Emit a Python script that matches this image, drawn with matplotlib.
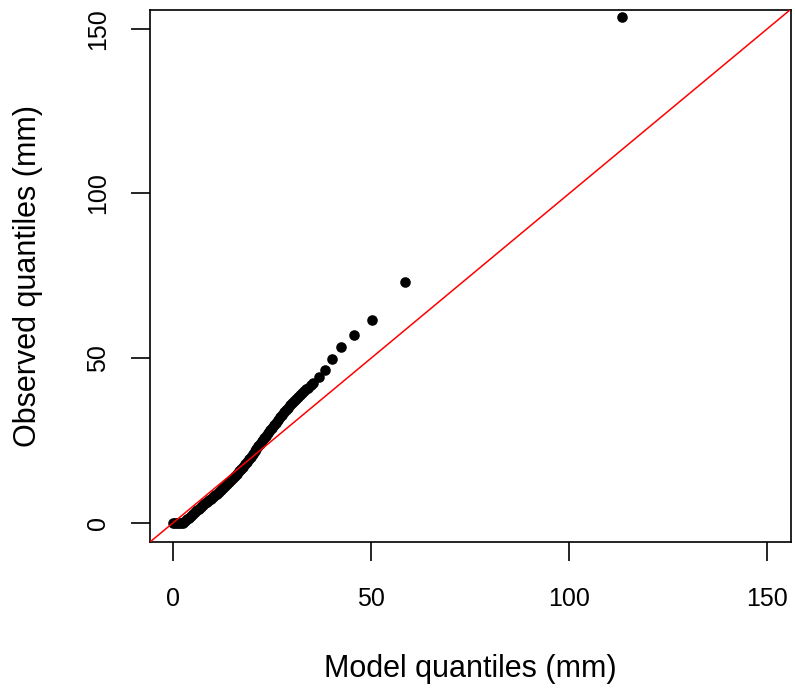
import numpy as np
import matplotlib
matplotlib.use("Agg")
import matplotlib.pyplot as plt

plt.rcParams['font.family'] = ['Liberation Sans', 'DejaVu Sans']

# model vs observed quantiles (mm)
model_q = [0, 0.5, 1, 1.5, 2, 2.5, 3, 3.5, 4, 4.5, 5, 5.5, 6, 6.5, 7, 7.5, 8, 8.5,
           9, 9.5, 10, 10.5, 11, 11.5, 12, 12.5, 13, 13.5, 14, 14.5, 15, 15.5, 16,
           16.5, 17, 17.5, 18, 18.5, 19, 19.5, 20, 20.5, 21, 21.5, 22, 22.5, 23,
           23.5, 24, 24.5, 25, 25.5, 26, 26.5, 27, 27.5, 28, 28.5, 29, 29.5, 30,
           30.5, 31, 31.5, 32, 32.5, 33, 33.5, 34.1, 34.7, 35.4,
           36.7, 38.3, 40.2, 42.3, 45.7, 50.3, 58.5, 113.4]
obs_q = [0, 0, 0, 0, 0, 0, 0.6, 1.0, 1.5, 2.0, 2.6, 3.1, 3.7, 4.2, 4.8, 5.3, 5.8,
         6.3, 6.8, 7.3, 7.8, 8.3, 8.8, 9.3, 9.9, 10.4, 11.0, 11.6, 12.2, 12.8,
         13.5, 14.2, 14.9, 15.6, 16.3, 17.0, 17.7, 18.5, 19.2, 20.0, 20.8, 21.6,
         22.4, 23.2, 24.0, 24.8, 25.6, 26.4, 27.2, 28.0, 28.8, 29.6, 30.4, 31.2,
         32.0, 32.8, 33.5, 34.2, 34.9, 35.6, 36.3, 36.9, 37.5, 38.1, 38.7, 39.3,
         39.9, 40.5, 41.0, 41.7, 42.5,
         44.2, 46.5, 49.7, 53.2, 57.1, 61.6, 73.1, 153.6]
ticks = [0, 50, 100, 150]
lims = (-5.9, 155.9)

W, H = 795, 689
fig = plt.figure(figsize=(W / 100, H / 100), dpi=100)
ax = fig.add_axes([150 / W, 1 - 542 / H, (790.5 - 150) / W, (542 - 9.5) / H])

ax.scatter(model_q, obs_q, s=58, c='black', linewidths=0, zorder=2)
ax.axline((0, 0), slope=1, color='#ff0000', lw=1.1, zorder=3)

ax.set_xlim(lims)
ax.set_ylim(lims)
ax.set_xticks(ticks)
ax.set_yticks(ticks)
for s in ax.spines.values():
    s.set_linewidth(1.2)
ax.tick_params(axis='both', direction='out', length=13.5, width=1.2, labelsize=18)
ax.tick_params(axis='x', pad=19)
ax.tick_params(axis='y', pad=15.5, labelrotation=90)
for lab in ax.get_yticklabels():
    lab.set_va('center')

# axis titles, placed on their baselines like R's mtext
fig.text(470 / W, 1 - 677 / H, 'Model quantiles (mm)', ha='center', va='baseline',
         fontsize=22)
fig.text(36 / W, 1 - 276 / H, 'Observed quantiles (mm)', ha='center', va='baseline',
         rotation=90, rotation_mode='anchor', fontsize=22)

fig.savefig('out.png', dpi=100)
